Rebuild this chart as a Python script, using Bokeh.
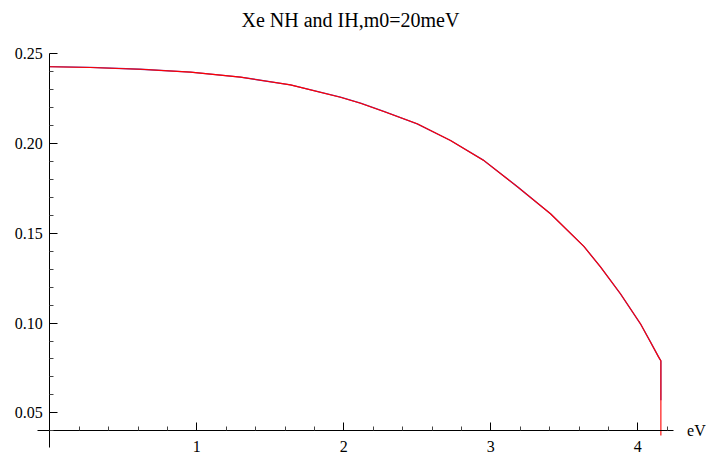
from bokeh.plotting import figure
from bokeh.models import FixedTicker, Range1d, Label
from bokeh.embed import file_html
from bokeh.resources import INLINE

# NH and IH spectra (eV vs value)
nh_x = [0.000, 0.277, 0.617, 0.957, 1.297, 1.637, 1.977, 2.114, 2.272, 2.499, 2.726, 2.952,
        3.180, 3.406, 3.633, 3.746, 3.882, 4.018, 4.086, 4.140, 4.150, 4.157, 4.157]
nh_y = [0.2428, 0.2424, 0.2414, 0.2398, 0.2370, 0.2327, 0.2258, 0.2225, 0.2179, 0.2110, 0.2017, 0.1906,
        0.1760, 0.1609, 0.1427, 0.1313, 0.1163, 0.0996, 0.0895, 0.0813, 0.0799, 0.0790, 0.0570]
ih_x = [0.000, 0.277, 0.617, 0.957, 1.297, 1.637, 1.977, 2.114, 2.272, 2.499, 2.726, 2.952,
        3.180, 3.406, 3.633, 3.746, 3.882, 4.018, 4.086, 4.140, 4.150, 4.157, 4.157]
ih_y = [0.2428, 0.2424, 0.2414, 0.2398, 0.2370, 0.2327, 0.2258, 0.2225, 0.2179, 0.2110, 0.2017, 0.1906,
        0.1760, 0.1609, 0.1427, 0.1313, 0.1163, 0.0996, 0.0895, 0.0813, 0.0799, 0.0790, 0.0374]

x_major = [1, 2, 3, 4]
x_minor = [round(0.2 * i, 1) for i in range(1, 22) if i % 5 != 0]
y_major = [0.05, 0.10, 0.15, 0.20, 0.25]
y_labels = ["0.05", "0.10", "0.15", "0.20", "0.25"]
y_minor = [round(0.01 * i, 2) for i in range(4, 26) if i % 5 != 0]

TITLE = "Xe NH and IH,m0=20meV"
X_UNIT = "eV"
FONT = "Liberation Serif"

p = figure(width=706, height=454, output_backend="svg", toolbar_location=None,
           x_range=Range1d(-0.3354, 4.4673), y_range=Range1d(0.02677, 0.27969),
           min_border_left=0, min_border_right=0, min_border_top=0, min_border_bottom=0)

p.grid.visible = False
p.outline_line_color = None
p.background_fill_color = "white"
p.border_fill_color = "white"

p.xaxis.fixed_location = 0.04
p.yaxis.fixed_location = 0.0
p.xaxis.bounds = (-0.086, 4.24)
p.yaxis.bounds = (0.0308, 0.2502)

p.xaxis.ticker = FixedTicker(ticks=x_major, minor_ticks=x_minor)
p.yaxis.ticker = FixedTicker(ticks=y_major, minor_ticks=y_minor)
p.yaxis.major_label_overrides = {v: s for v, s in zip(y_major, y_labels)}

for ax in (p.xaxis, p.yaxis):
    ax.axis_line_color = "black"
    ax.axis_line_width = 1
    ax.major_tick_line_color = "black"
    ax.minor_tick_line_color = "#444444"
    ax.major_tick_in = 8
    ax.major_tick_out = 0
    ax.minor_tick_in = 4
    ax.minor_tick_out = 0
    ax.major_label_text_font = FONT
    ax.major_label_text_font_size = "16px"
    ax.major_label_text_color = "black"
p.xaxis.major_label_standoff = 10
p.yaxis.major_label_standoff = 7

p.line(nh_x, nh_y, line_color="#6a3aa8", line_width=1.3)
p.line(ih_x, ih_y, line_color="#ff0000", line_width=1.1)

p.add_layout(Label(x=1.304, y=0.2688, text=TITLE, text_font=FONT, text_font_size="20px",
                   text_baseline="alphabetic", text_align="left", text_color="black"))
p.add_layout(Label(x=4.335, y=0.04, text=X_UNIT, text_font=FONT, text_font_size="16px",
                   text_baseline="middle", text_align="left", text_color="black"))

open("out.html", "w").write(file_html(p, INLINE))
